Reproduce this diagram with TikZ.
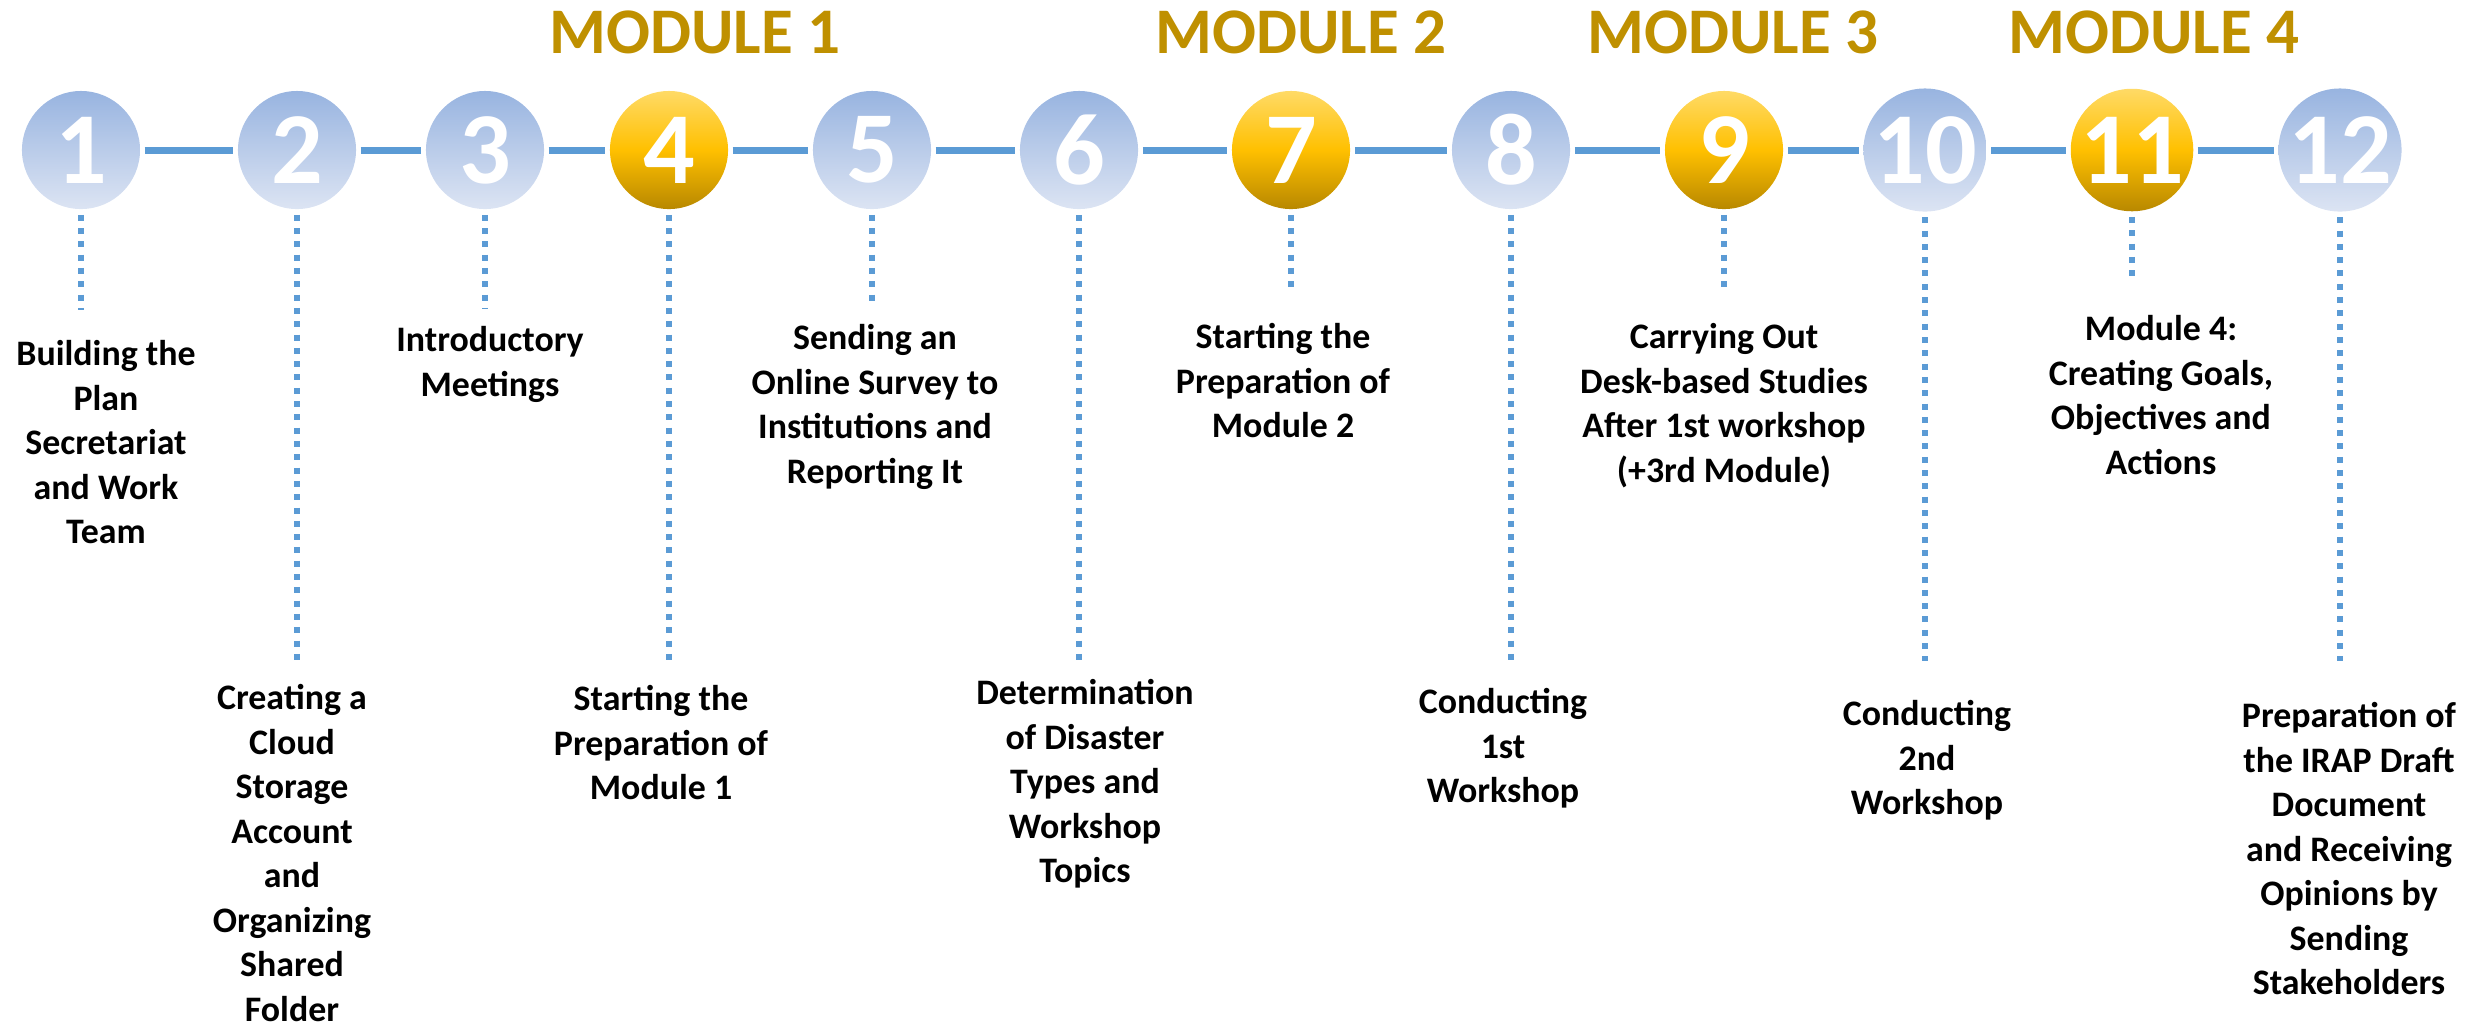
\documentclass[tikz,border=0pt]{standalone}
\usepackage{fontspec}
\setmainfont{Carlito}
\usepackage{tikz}
\definecolor{lineblue}{RGB}{91,155,213}
\definecolor{modgold}{RGB}{191,144,0}
\definecolor{bluetop}{RGB}{152,180,224}
\definecolor{bluebot}{RGB}{220,228,243}
\definecolor{goldtop}{RGB}{255,218,102}
\definecolor{goldmid}{RGB}{255,192,0}
\definecolor{goldbot}{RGB}{184,136,0}
\tikzset{P/.style={circle,minimum size=1.18cm,inner sep=0pt,top color=bluetop,bottom color=bluebot,text=white,font=\bfseries\fontsize{29}{29}\selectfont}}
\tikzset{M/.style={P,top color=goldtop,bottom color=goldbot,middle color=goldmid}}
\tikzset{L/.style={draw=lineblue,line width=0.07cm,shorten <=0.04cm,shorten >=0.04cm}}
\tikzset{D/.style={draw=lineblue,line width=0.06cm,dash pattern=on 0.06cm off 0.073cm,shorten <=0.05cm}}
\tikzset{T/.style={align=center,inner sep=0pt,anchor=north,font=\bfseries\fontsize{10.2}{12.65}\selectfont}}
\tikzset{H/.style={text=modgold,inner sep=0pt,font=\bfseries\fontsize{18.5}{18.5}\selectfont}}

\begin{document}
\begin{tikzpicture}[x=0.01cm,y=-0.01cm]
\useasboundingbox (0,0) rectangle (2481,1026);

% timeline
\foreach \i/\x/\s in {1/81/P,2/297/P,3/485/P,4/669/M,5/872/P,6/1079/P,7/1291/M,8/1511/P,9/1724/M,10/1925/P,11/2132/M,12/2340/P}
  {
 \node[\s] (c\i) at (\x,150) {\i};
 }
\foreach \i [evaluate=\i as \j using int(\i+1)] in {1,...,11}
  {
 \draw[L] (c\i) -- (c\j);
 }

% dotted drops
\foreach \i/\x/\e in {1/81/310,2/297/661,3/485/308,4/669/661,5/872/303,6/1079/661,7/1291/291,8/1511/661,9/1724/293,10/1925/661,11/2132/283,12/2340/661}
  {
 \coordinate (d\i) at (\x,\e);
 \draw[D] (c\i.south) -- (d\i);
 }

\node[H] (m1) at (695,32) {MODULE 1};
\node[H] (m2) at (1301,32) {MODULE 2};
\node[H] (m3) at (1733,32) {MODULE 3};
\node[H] (m4) at (2154,32) {MODULE 4};

\node[T] (t1) at (106,340) {Building the\\Plan\\Secretariat\\and Work\\Team};
\node[T] (t2) at (292,684) {Creating a\\Cloud\\Storage\\Account\\and\\Organizing\\Shared\\Folder};
\node[T] (t3) at (490,326) {Introductory\\Meetings};
\node[T] (t4) at (661,685) {Starting the\\Preparation of\\Module 1};
\node[T] (t5) at (875,324) {Sending an\\Online Survey to\\Institutions and\\Reporting It};
\node[T] (t6) at (1085,679) {Determination\\of Disaster\\Types and\\Workshop\\Topics};
\node[T] (t7) at (1283,323) {Starting the\\Preparation of\\Module 2};
\node[T] (t8) at (1503,688) {Conducting\\1st\\Workshop};
\node[T] (t9) at (1724,323) {Carrying Out\\Desk-based Studies\\After 1st workshop\\(+3rd Module)};
\node[T] (t10) at (1927,700) {Conducting\\2nd\\Workshop};
\node[T] (t11) at (2161,315) {Module 4:\\Creating Goals,\\Objectives and\\Actions};
\node[T] (t12) at (2349,702) {Preparation of\\the IRAP Draft\\Document\\and Receiving\\Opinions by\\Sending\\Stakeholders};

\end{tikzpicture}
\end{document}
